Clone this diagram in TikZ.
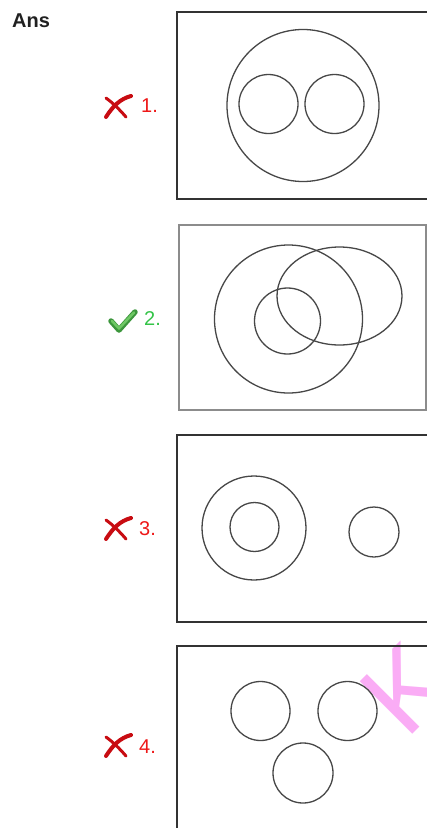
\documentclass[tikz,border=0pt]{standalone}
\usepackage{fontspec}
\setmainfont{Liberation Sans}
\definecolor{wmpink}{RGB}{250,172,245}
\definecolor{xred}{RGB}{200,12,18}
\definecolor{lblred}{RGB}{238,24,24}
\definecolor{lblgreen}{RGB}{52,196,72}
\definecolor{chkdark}{RGB}{60,150,60}
\definecolor{chklight}{RGB}{110,200,100}
\begin{document}
\begin{tikzpicture}[x=1pt,y=-1pt,
  frame/.style={draw=black!80, line width=1.8pt},
  lightframe/.style={draw=black!45, line width=1.2pt},
  ring/.style={draw=black!72, line width=1.3pt},
  lbl/.style={anchor=base west, inner sep=0pt, font=\fontsize{20}{20}\selectfont},
  xstroke/.style={draw=xred, line cap=round},
  wrongx/.pic={
    \draw[xstroke, line width=3pt] (-11,-8) .. controls (-4,-3) and (3,4) .. (9,11);
    \draw[xstroke, line width=4pt] (-11,11) .. controls (-4,0) and (3,-7) .. (14,-10);
  },
  rightcheck/.pic={
    \draw[draw=chkdark, line width=5.5pt, line cap=round, line join=round] (-11,1) -- (-3,10) -- (13,-8);
    \draw[draw=chklight, line width=2.5pt, line cap=round, line join=round] (-10,1) -- (-3,8.5) -- (12,-7.5);
  }
]
\useasboundingbox (0,0) rectangle (427,828);
\fill[white] (0,0) rectangle (427,828);
\clip (0,0) rectangle (427,828);

% watermark
\node[rotate=45, anchor=base west, inner sep=0pt, text=wmpink,
      font=\fontsize{108}{108}\selectfont] (wm) at (406,741) {K};

% heading
\node[anchor=base west, inner sep=0pt, font=\fontsize{20}{20}\selectfont\bfseries, text=black!87] (ans) at (12,27) {Ans};

% option 1
\draw[frame] (440,12) -- (177,12) -- (177,199) -- (440,199);
\draw[ring] (303,105.5) circle[radius=76];
\draw[ring] (268.5,104) circle[radius=29.5];
\draw[ring] (334.5,104) circle[radius=29.5];
\pic (m1) at (117,106) {wrongx};
\node[lbl, text=lblred] (l1) at (141,112) {1.};

% option 2
\draw[lightframe] (179,225) rectangle (426,410);
\draw[ring] (288.5,319) circle[radius=74];
\draw[ring] (339.5,296) ellipse[x radius=62.5, y radius=49];
\draw[ring] (287.5,321) circle[radius=33];
\pic (m2) at (122,320) {rightcheck};
\node[lbl, text=lblgreen] (l2) at (144,325) {2.};

% option 3
\draw[frame] (440,435) -- (177,435) -- (177,622) -- (440,622);
\draw[ring] (254,528) circle[radius=52];
\draw[ring] (254.5,527) circle[radius=24.5];
\draw[ring] (374,532) circle[radius=25];
\pic (m3) at (117,528) {wrongx};
\node[lbl, text=lblred] (l3) at (139,535) {3.};

% option 4
\draw[frame] (440,646) -- (177,646) -- (177,840);
\draw[ring] (260.5,711) circle[radius=29.5];
\draw[ring] (347.5,711) circle[radius=29.5];
\draw[ring] (303,773) circle[radius=30];
\pic (m4) at (117,745) {wrongx};
\node[lbl, text=lblred] (l4) at (139,753) {4.};
\end{tikzpicture}
\end{document}
